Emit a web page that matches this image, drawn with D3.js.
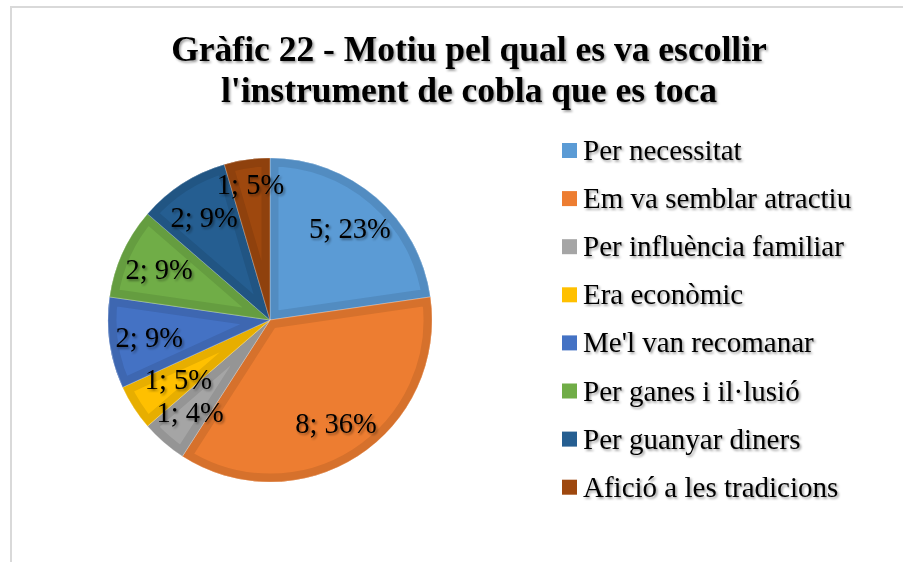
<!DOCTYPE html>
<html lang="ca">
<head>
<meta charset="UTF-8">
<title>Gràfic 22</title>
<script src="https://d3js.org/d3.v7.min.js"></script>
<style>
    html, body { margin: 0; padding: 0; background: #ffffff; overflow: hidden; }
    svg { display: block; font-family: "Liberation Serif", "Times New Roman", serif; }
</style>
</head>
<body>
<div id="chart"></div>
<script>
    // chart data
    const categories = [
        'Per necessitat',
        'Em va semblar atractiu',
        'Per influència familiar',
        'Era econòmic',
        "Me'l van recomanar",
        'Per ganes i il·lusió',
        'Per guanyar diners',
        'Afició a les tradicions'
    ];
    const counts = [5, 8, 1, 1, 2, 2, 2, 1];
    const percentLabels = ['23%', '36%', '4%', '5%', '9%', '9%', '9%', '5%'];
    const colors = ['#5B9BD5', '#ED7D31', '#A5A5A5', '#FFC000', '#4472C4', '#70AD47', '#255E91', '#9E480E'];
    const titleLines = ['Gràfic 22 - Motiu pel qual es va escollir', "l'instrument de cobla que es toca"];

    const width = 903, height = 562;
    const cx = 270, cy = 320, radius = 162;
    const labelSize = 28.5;

    const svg = d3.select('#chart').append('svg')
        .attr('width', width)
        .attr('height', height);

    const defs = svg.append('defs');
    const shadow = defs.append('filter')
        .attr('id', 'txtShadow')
        .attr('x', '-10%').attr('y', '-20%')
        .attr('width', '130%').attr('height', '150%');
    shadow.append('feDropShadow')
        .attr('dx', 1.6).attr('dy', 1.8)
        .attr('stdDeviation', 1.2)
        .attr('flood-color', '#000000')
        .attr('flood-opacity', 0.4);

    // outer frame (runs off the page to the right and bottom)
    svg.append('rect')
        .attr('x', 11).attr('y', 7)
        .attr('width', 1200).attr('height', 1200)
        .attr('fill', 'none')
        .attr('stroke', '#d9d9d9')
        .attr('stroke-width', 2);

    // title
    svg.append('text')
        .attr('text-anchor', 'middle')
        .attr('font-weight', 'bold')
        .attr('font-size', 35.5)
        .attr('fill', '#000')
        .attr('filter', 'url(#txtShadow)')
        .selectAll('tspan')
        .data(titleLines)
        .join('tspan')
        .attr('x', 469)
        .attr('y', (d, i) => 61 + i * 41)
        .text(d => d);

    const data = categories.map((c, i) => ({ name: c, value: counts[i], pct: percentLabels[i], color: colors[i] }));

    const pie = d3.pie().sort(null).value(d => d.value);
    const arcs = pie(data);
    const arc = d3.arc().innerRadius(0).outerRadius(radius);

    const g = svg.append('g').attr('transform', `translate(${cx},${cy})`);

    const slice = g.selectAll('g.slice')
        .data(arcs)
        .join('g')
        .attr('class', 'slice');

    slice.append('clipPath')
        .attr('id', (d, i) => 'clip' + i)
        .append('path')
        .attr('d', arc);

    slice.append('path')
        .attr('d', arc)
        .attr('fill', d => d.data.color);

    // bevel band along the edges of each slice
    slice.append('path')
        .attr('d', arc)
        .attr('fill', 'none')
        .attr('stroke', d => d3.color(d.data.color).darker(0.28))
        .attr('stroke-width', 17)
        .attr('stroke-linejoin', 'miter')
        .attr('clip-path', (d, i) => `url(#clip${i})`);

    slice.append('path')
        .attr('d', arc)
        .attr('fill', 'none')
        .attr('stroke', '#ffffff')
        .attr('stroke-opacity', 0.35)
        .attr('stroke-width', 0.8);

    // data labels
    const labels = g.selectAll('text.lbl')
        .data(arcs)
        .join('text')
        .attr('class', 'lbl')
        .attr('text-anchor', 'middle')
        .attr('dy', '0.35em')
        .attr('font-size', labelSize)
        .attr('fill', '#000')
        .attr('filter', 'url(#txtShadow)')
        .text(d => `${d.data.value}; ${d.data.pct}`);

    // best fit: start at a common radius, slide in or out when two labels collide
    const placed = [];
    labels.each(function(d) {
        const mid = (d.startAngle + d.endAngle) / 2;
        const w = this.getComputedTextLength();
        const h = labelSize * 1.15;
        const pos = rr => [Math.sin(mid) * rr, -Math.cos(mid) * rr];
        const hits = p => placed.some(q => Math.abs(q.x - p[0]) < (q.w + w) / 2 + 2 && Math.abs(q.y - p[1]) < h);
        let r = 122;
        for (let k = 0; k < 30; k++) {
            if (!hits(pos(122 + k)) && 122 + k < radius - 18) { r = 122 + k; break; }
            if (!hits(pos(122 - k))) { r = 122 - k; break; }
        }
        const p = pos(r);
        placed.push({ x: p[0], y: p[1], w: w });
        d3.select(this).attr('x', p[0]).attr('y', p[1]);
    });

    // legend
    const legend = svg.append('g').attr('transform', 'translate(562,143)');
    const item = legend.selectAll('g')
        .data(data)
        .join('g')
        .attr('transform', (d, i) => `translate(0,${i * 48.1})`);

    item.append('rect')
        .attr('width', 15).attr('height', 15)
        .attr('fill', d => d.color);

    item.append('text')
        .attr('x', 21)
        .attr('y', 17)
        .attr('font-size', 29)
        .attr('fill', '#000')
        .attr('filter', 'url(#txtShadow)')
        .text(d => d.name);
</script>
</body>
</html>
